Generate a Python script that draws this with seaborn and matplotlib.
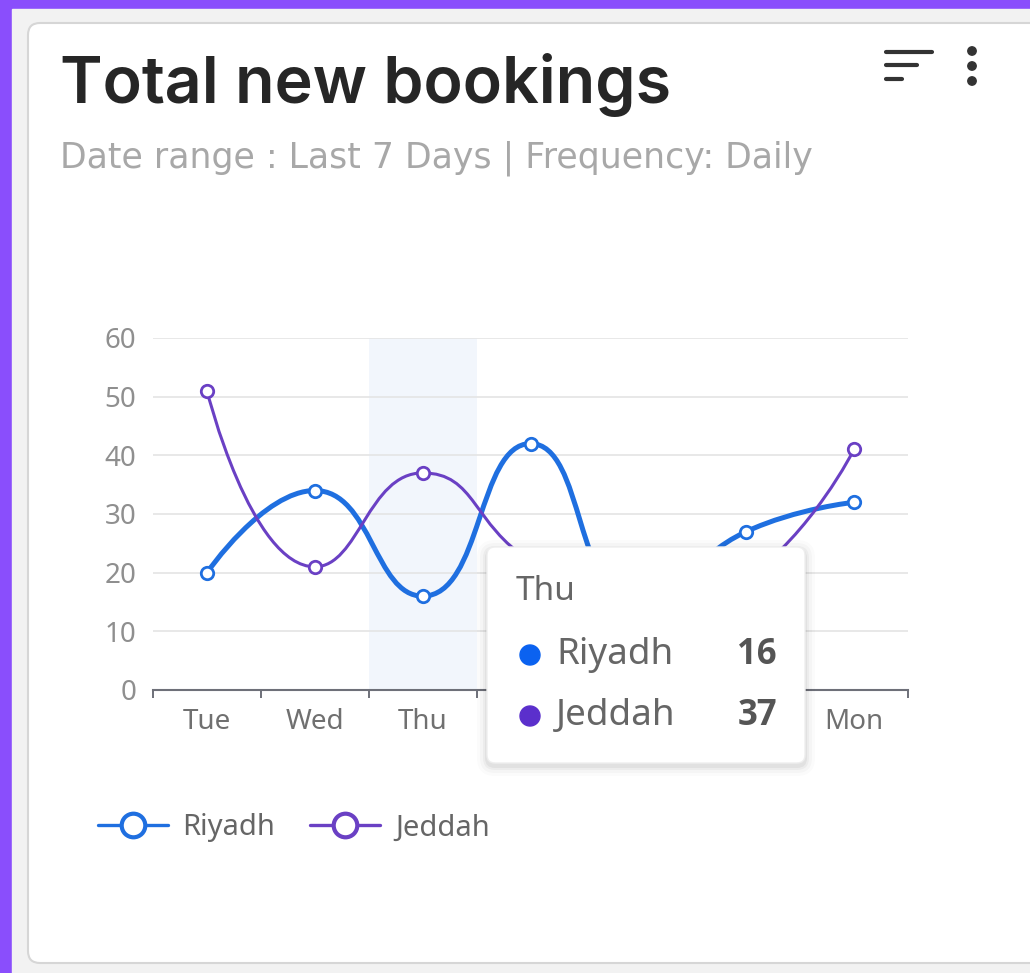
import numpy as np
import pandas as pd
import seaborn as sns
import matplotlib.pyplot as plt
from matplotlib.path import Path
from matplotlib.patches import PathPatch, FancyBboxPatch, Rectangle, Circle
from matplotlib.lines import Line2D

# chart data
days = ["Tue", "Wed", "Thu", "Fri", "Sat", "Sun", "Mon"]
riyadh = [20, 34, 16, 42, 15, 27, 32]
jeddah = [51, 21, 37, 22, 14, 19, 41]
cities = ["Riyadh", "Jeddah"]
yticks = [0, 10, 20, 30, 40, 50, 60]
tip_day = "Thu"

colors = {"Riyadh": "#1f6fe0", "Jeddah": "#6a40c4"}
dot_colors = {"Riyadh": "#0b62f0", "Jeddah": "#5b2fcc"}
line_w = {"Riyadh": 3.6, "Jeddah": 2.2}

df = pd.DataFrame({"day": days * 2,
                   "pos": list(range(len(days))) * 2,
                   "city": ["Riyadh"] * len(days) + ["Jeddah"] * len(days),
                   "value": riyadh + jeddah})

W, H = 1030, 973
sns.set_theme(style="white")
plt.rcParams["font.family"] = ["Noto Sans", "DejaVu Sans"]

fig = plt.figure(figsize=(W / 100, H / 100), dpi=100)
fig.patch.set_facecolor("#8a4efc")

# background / card (pixel coords, y down)
bg = fig.add_axes([0, 0, 1, 1], zorder=0)
bg.set_xlim(0, W)
bg.set_ylim(H, 0)
bg.axis("off")
bg.add_patch(Rectangle((12, 9), W, H, color="#f2f2f2"))
bg.add_patch(FancyBboxPatch((28, 23), W + 20, 940, boxstyle="round,pad=0,rounding_size=12",
                            fc="white", ec="#d6d6d6", lw=1.5))

bg.text(60, 103, "Total new bookings", fontsize=46.5, fontweight="semibold",
        family=["Inter", "DejaVu Sans"], color="#262626", va="baseline")
bg.text(60, 167, "Date range : Last 7 Days | Frequency: Daily", fontsize=25,
        family=["DejaVu Sans"], color="#a8a8a8", va="baseline")

# sort icon + kebab
for y0, x1 in [(52, 932), (65, 917), (79, 902)]:
    bg.plot([886, x1], [y0, y0], color="#333333", lw=3, solid_capstyle="round")
for y0 in [51, 66, 81]:
    bg.add_patch(Circle((972, y0), 4.2, color="#333333"))

# chart
ax = fig.add_axes([153 / W, 1 - 690 / H, 755 / W, 352 / H], zorder=2)
ax.set_facecolor("none")
ax.set_xlim(-0.5, len(days) - 0.5)
ax.set_ylim(0, 60)

ti = days.index(tip_day)
ax.axvspan(ti - 0.5, ti + 0.5, color="#f2f6fc", zorder=0, lw=0)

sx = 755 / len(days)
sy = 352 / 60


def smooth_path(xs, ys, smooth=0.5):
    px = np.asarray(xs, float) * sx
    py = np.asarray(ys, float) * sy
    n = len(px)
    verts = [(px[0], py[0])]
    codes = [Path.MOVETO]
    cpx0, cpy0 = px[0], py[0]
    for i in range(1, n):
        x, y = px[i], py[i]
        prevX, prevY = px[i - 1], py[i - 1]
        if i == n - 1:
            cpx1, cpy1 = x, y
            ncx, ncy = x, y
        else:
            nextX, nextY = px[i + 1], py[i + 1]
            vx, vy = nextX - prevX, nextY - prevY
            lp = np.hypot(x - prevX, y - prevY)
            ln = np.hypot(nextX - x, nextY - y)
            r = ln / (ln + lp)
            ncx = x + vx * smooth * r
            ncy = y + vy * smooth * r
            ncx = max(min(ncx, max(nextX, x)), min(nextX, x))
            ncy = max(min(ncy, max(nextY, y)), min(nextY, y))
            vx, vy = ncx - x, ncy - y
            cpx1 = x - vx * lp / ln
            cpy1 = y - vy * lp / ln
            cpx1 = max(min(cpx1, max(prevX, x)), min(prevX, x))
            cpy1 = max(min(cpy1, max(prevY, y)), min(prevY, y))
            vx, vy = x - cpx1, y - cpy1
            ncx = x + vx * ln / lp
            ncy = y + vy * ln / lp
        verts += [(cpx0, cpy0), (cpx1, cpy1), (x, y)]
        codes += [Path.CURVE4] * 3
        cpx0, cpy0 = ncx, ncy
    verts = np.array(verts) / [sx, sy]
    return Path(verts, codes)


for c in cities:
    sub = df[df["city"] == c]
    ax.add_patch(PathPatch(smooth_path(sub["pos"], sub["value"]), fill=False,
                           ec=colors[c], lw=line_w[c], zorder=3, capstyle="round"))
    sns.scatterplot(data=sub, x="pos", y="value", s=80, color="white",
                    edgecolor=colors[c], linewidth=2.0, zorder=4, ax=ax, legend=False)

ax.set_xticks(range(len(days)))
ax.set_xticklabels(days)
ax.set_xticks(np.arange(-0.5, len(days)), minor=True)
ax.set_yticks(yticks)
ax.tick_params(axis="x", which="major", length=0, pad=13, labelsize=20, labelcolor="#707070")
ax.tick_params(axis="x", which="minor", length=6, width=1.4, color="#6e7079", direction="out", bottom=True)
ax.tick_params(axis="y", length=0, pad=12, labelsize=20, labelcolor="#8f8f8f")
ax.set_xlabel("")
ax.set_ylabel("")
for s in ["top", "right", "left"]:
    ax.spines[s].set_visible(False)
ax.spines["bottom"].set_color("#6e7079")
ax.spines["bottom"].set_linewidth(1.5)
ax.grid(axis="y", color="#e4e4e4", lw=1.2)
ax.set_axisbelow(True)

# tooltip box in pixel coords
tip_x, tip_y, tip_w, tip_h = 487, 547, 318, 216
# day labels that sit under the tooltip are covered in the original
for lab, pos in zip(ax.get_xticklabels(), range(len(days))):
    xpix = 153 + (pos + 0.5) * sx
    if tip_x - 10 < xpix < tip_x + tip_w + 10:
        lab.set_visible(False)

handles = [Line2D([], [], color=colors[c], lw=2.4, marker="o", markersize=17,
                  markerfacecolor="white", markeredgecolor=colors[c], markeredgewidth=3)
           for c in cities]
ax.legend(handles, cities, loc="center left", bbox_to_anchor=(98, 828),
          bbox_transform=bg.transData, ncol=2, frameon=False, fontsize=21,
          handlelength=2.4, handletextpad=0.5, columnspacing=1.2, borderpad=0,
          borderaxespad=0, labelcolor="#666666")

# tooltip overlay
fg = fig.add_axes([0, 0, 1, 1], zorder=5)
fg.set_xlim(0, W)
fg.set_ylim(H, 0)
fg.axis("off")
for k, a in [(10, 0.015), (7, 0.025), (4, 0.035), (2, 0.045)]:
    fg.add_patch(FancyBboxPatch((tip_x - k, tip_y - k + 3), tip_w + 2 * k, tip_h + 2 * k,
                                boxstyle=f"round,pad=0,rounding_size={8 + k}",
                                fc="black", ec="none", alpha=a))
fg.add_patch(FancyBboxPatch((tip_x, tip_y), tip_w, tip_h, boxstyle="round,pad=0,rounding_size=8",
                            fc="white", ec="#eeeeee", lw=1))
fg.text(516, 592, tip_day, fontsize=24, color="#666666", va="center")
for c, yy, v in [("Riyadh", 655, riyadh[ti]), ("Jeddah", 716, jeddah[ti])]:
    fg.add_patch(Circle((530, yy), 10, color=dot_colors[c]))
    fg.text(556, yy, c, fontsize=26.5, color="#666666", va="center")
    fg.text(777, yy, str(v), fontsize=25, color="#555555", va="center", ha="right",
            fontweight="bold", family=["Open Sans", "DejaVu Sans"])

fig.savefig("out.png", dpi=100, facecolor=fig.get_facecolor())
